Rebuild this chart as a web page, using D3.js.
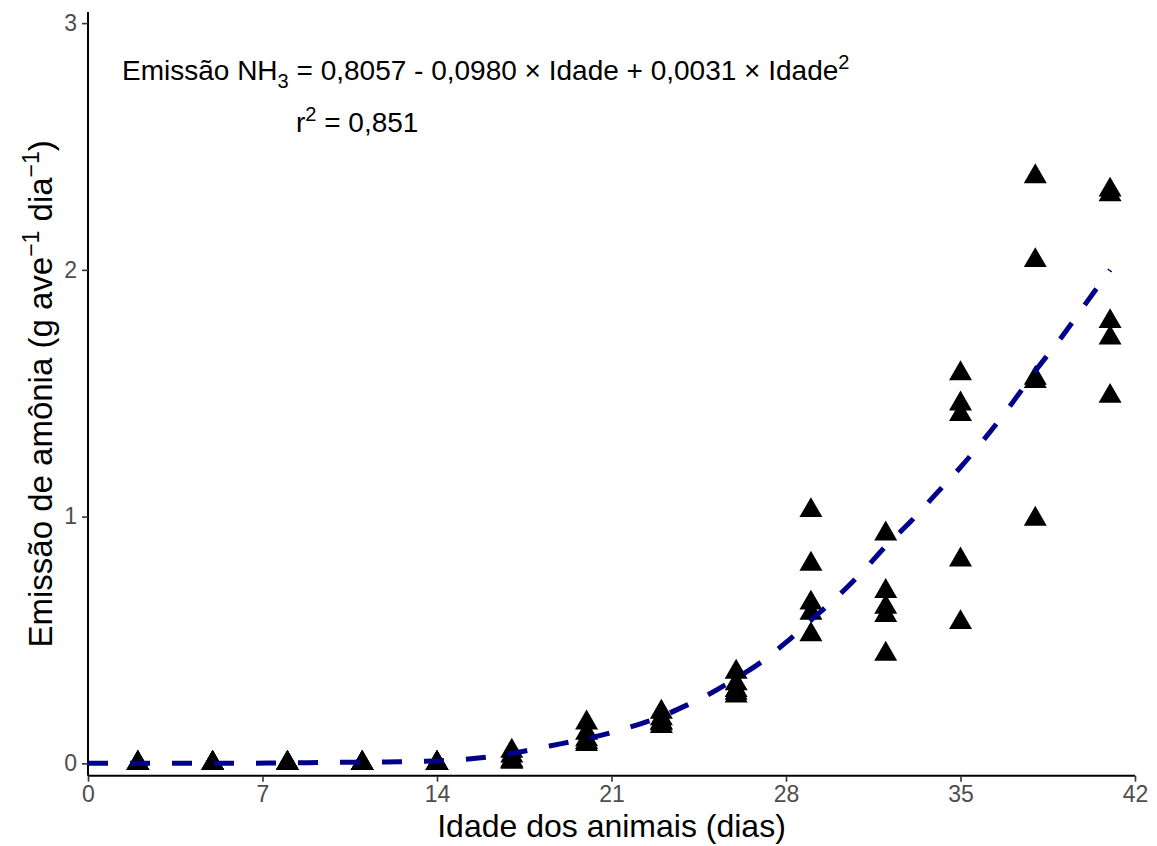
<!DOCTYPE html>
<html>
<head>
<meta charset="utf-8">
<script src="https://cdn.jsdelivr.net/npm/d3@7/dist/d3.min.js"></script>
<style>
  html, body { margin: 0; padding: 0; background: #fff; }
  svg { display: block; font-family: "Liberation Sans", Arial, sans-serif; }
</style>
</head>
<body>
<svg id="chart" width="1157" height="846"></svg>
<script>
// ---- Data ----
const days = [2, 5, 8, 11, 14, 17, 20, 23, 26, 29, 32, 35, 38, 41];
const emission = [
  [0.0, 0.0, 0.0, 0.0, 0.0],
  [0.0, 0.0, 0.0, 0.0, 0.0],
  [0.0, 0.0, 0.0, 0.0, 0.0],
  [0.0, 0.0, 0.0, 0.0, 0.0],
  [0.0, 0.0, 0.0, 0.0, 0.0],
  [0.05, 0.03, 0.01, 0.01, 0.005],
  [0.164, 0.123, 0.096, 0.077, 0.085],
  [0.208, 0.181, 0.161, 0.150, 0.165],
  [0.37, 0.323, 0.296, 0.274, 0.285],
  [1.025, 0.808, 0.650, 0.609, 0.522],
  [0.930, 0.697, 0.633, 0.600, 0.443],
  [1.580, 1.457, 1.414, 0.825, 0.571],
  [2.378, 2.038, 1.561, 1.548, 0.99],
  [2.324, 2.305, 1.791, 1.724, 1.488]
];
// fitted curve
const fitAge = [0, 2, 4, 6, 8, 10, 12, 14, 15, 16, 17, 18, 19, 20, 21, 22, 23, 24, 25, 26, 27, 28, 29, 30, 31, 32, 33, 34, 35, 36, 37, 38, 39, 40, 41];
const fitValue = [0, 0, 0, 0, 0.002, 0.004, 0.006, 0.01, 0.015, 0.025, 0.04, 0.06, 0.08, 0.10, 0.125, 0.155, 0.19, 0.235, 0.285, 0.345, 0.41, 0.49, 0.58, 0.67, 0.77, 0.88, 0.98, 1.09, 1.20, 1.32, 1.45, 1.59, 1.72, 1.86, 2.00];
const xTicks = [0, 7, 14, 21, 28, 35, 42];
const yTicks = [0, 1, 2, 3];

// ---- Layout ----
const svg = d3.select("#chart");
const x = d3.scaleLinear().domain([0, 42]).range([88, 1135]);
const y = d3.scaleLinear().domain([-0.05, 3.045]).range([775.7, 12]);

const tickColor = "#333333";
const labelColor = "#4D4D4D";
const FONT = "Liberation Sans, Arial, sans-serif";

// x axis
const gx = svg.append("g").attr("transform", `translate(0,${y(-0.05)})`)
  .call(d3.axisBottom(x).tickValues(xTicks).tickSize(6).tickPadding(4).tickFormat(d3.format("d")));
gx.attr("font-family", FONT).attr("font-size", 23);
gx.select(".domain").attr("stroke", "#000").attr("stroke-width", 2).attr("d", `M${x(0)},0H${x(42)}`);
gx.selectAll(".tick line").attr("stroke", tickColor).attr("stroke-width", 1.6);
gx.selectAll(".tick text").attr("fill", labelColor);

// y axis
const gy = svg.append("g").attr("transform", `translate(${x(0)},0)`)
  .call(d3.axisLeft(y).tickValues(yTicks).tickSize(6).tickPadding(5).tickFormat(d3.format("d")));
gy.attr("font-family", FONT).attr("font-size", 23);
gy.select(".domain").attr("stroke", "#000").attr("stroke-width", 2).attr("d", `M0,${y(-0.05)}V${y(3.045)}`);
gy.selectAll(".tick line").attr("stroke", tickColor).attr("stroke-width", 1.6);
gy.selectAll(".tick text").attr("fill", labelColor);

// points
const pts = [];
days.forEach((d, i) => emission[i].forEach(v => pts.push({ d, v })));
const side = 23, h = side * Math.sqrt(3) / 2;
const tri = `M0,${-2 * h / 3}L${side / 2},${h / 3}L${-side / 2},${h / 3}Z`;
svg.append("g").selectAll("path").data(pts).join("path")
  .attr("d", tri)
  .attr("transform", p => `translate(${x(p.d)},${y(p.v)})`)
  .attr("fill", "#000");

// fitted dashed curve
const fit = fitAge.map((a, i) => ({ a, v: fitValue[i] }));
svg.append("path").datum(fit)
  .attr("d", d3.line().x(p => x(p.a)).y(p => y(p.v)).curve(d3.curveMonotoneX))
  .attr("fill", "none")
  .attr("stroke", "#00008B")
  .attr("stroke-width", 5)
  .attr("stroke-dasharray", "20,22");

// equation text
const eq = svg.append("text").attr("x", 122).attr("y", 80).attr("font-size", 28).attr("fill", "#000");
eq.append("tspan").text("Emissão NH");
eq.append("tspan").attr("dy", 8).attr("font-size", 20).text("3");
eq.append("tspan").attr("dy", -8).text(" = 0,8057 - 0,0980 × Idade + 0,0031 × Idade");
eq.append("tspan").attr("dy", -11).attr("font-size", 20).text("2");

const r2 = svg.append("text").attr("x", 296).attr("y", 132).attr("font-size", 28).attr("fill", "#000");
r2.append("tspan").text("r");
r2.append("tspan").attr("dy", -11).attr("font-size", 20).text("2");
r2.append("tspan").attr("dy", 11).text(" = 0,851");

// axis titles
svg.append("text").attr("x", (x(0) + x(42)) / 2).attr("y", 837)
  .attr("text-anchor", "middle").attr("font-size", 32).attr("fill", "#000")
  .text("Idade dos animais (dias)");

const yt = svg.append("text")
  .attr("transform", `translate(52,${(y(-0.05) + y(3.045)) / 2}) rotate(-90)`)
  .attr("text-anchor", "middle").attr("font-size", 33).attr("fill", "#000");
yt.append("tspan").text("Emissão de amônia (g ave");
yt.append("tspan").attr("dy", -13).attr("font-size", 23).text("−1");
yt.append("tspan").attr("dy", 13).text(" dia");
yt.append("tspan").attr("dy", -13).attr("font-size", 23).text("−1");
yt.append("tspan").attr("dy", 13).text(")");
</script>
</body>
</html>
